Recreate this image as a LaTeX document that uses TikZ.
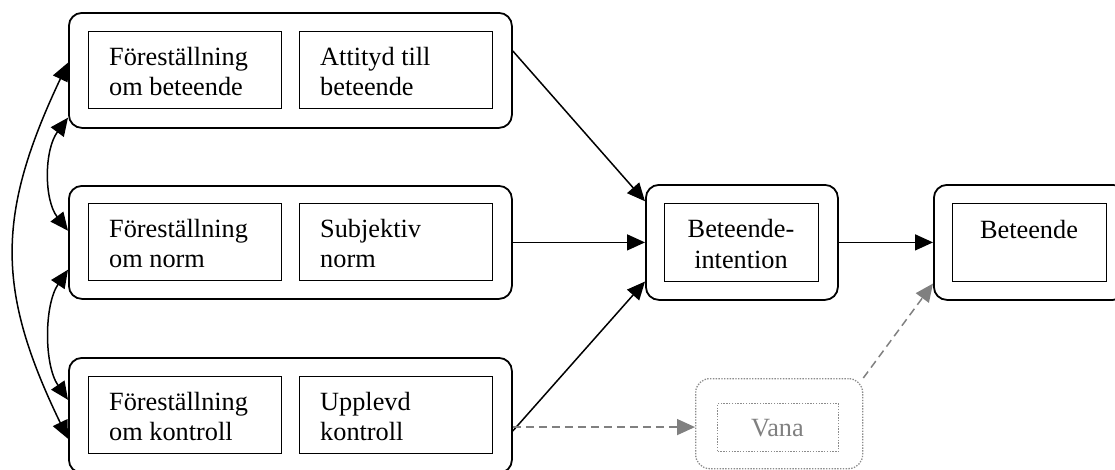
\documentclass[tikz,border=0pt]{standalone}
\usepackage{fontspec}
\setmainfont{Liberation Serif}
\usetikzlibrary{arrows.meta}
\newcommand\diagfont{\fontsize{26.3}{30.2}\selectfont}
\definecolor{gline}{HTML}{808080}
\definecolor{gdot}{HTML}{8C8C8C}
\tikzset{
  outerbox/.style={draw, line width=1.8pt, rounded corners=13pt, inner sep=0pt, anchor=north west},
  innerbox/.style={draw, line width=1.3pt, inner sep=0pt, anchor=north west},
  txt/.style={font=\diagfont, align=left, inner sep=0pt, anchor=north west},
  ctxt/.style={font=\diagfont, align=center, inner sep=0pt},
  tip/.style={Triangle[length=18pt,width=16pt]},
  arr/.style={line width=1.5pt, -{Triangle[length=18pt,width=16pt]}},
  biarr/.style={line width=1.5pt, {Triangle[length=18pt,width=16pt]}-{Triangle[length=18pt,width=16pt]}},
  garr/.style={line width=1.5pt, gline, dash pattern=on 8pt off 5pt, -{Triangle[length=18pt,width=16pt]}},
  dotbox/.style={draw=gdot, line width=1.3pt, dash pattern=on 1.4pt off 1.4pt, inner sep=0pt, anchor=north west},
}
\begin{document}
\begin{tikzpicture}[x=1pt,y=-1pt]
\useasboundingbox (0,0) rectangle (1115,469);
\clip (0,0) rectangle (1115,469);
% outer boxes
\node[outerbox, minimum width=443pt, minimum height=115pt] (b1) at (68,12) {};
\node[outerbox, minimum width=443pt, minimum height=113pt] (b2) at (68,185) {};
\node[outerbox, minimum width=443pt, minimum height=115pt] (b3) at (68,357) {};
\node[outerbox, minimum width=192pt, minimum height=115pt] (bi) at (645,184) {};
\node[outerbox, minimum width=192pt, minimum height=115pt] (be) at (933,184) {};
\node[dotbox, rounded corners=14pt, minimum width=167pt, minimum height=90pt] (va) at (695,378) {};
% inner boxes
\node[innerbox, minimum width=193pt, minimum height=77pt] (f1) at (88,31) {};
\node[innerbox, minimum width=193pt, minimum height=77pt] (a1) at (299,31) {};
\node[innerbox, minimum width=193pt, minimum height=77pt] (f2) at (88,203) {};
\node[innerbox, minimum width=193pt, minimum height=77pt] (s2) at (299,203) {};
\node[innerbox, minimum width=193pt, minimum height=77pt] (f3) at (88,376) {};
\node[innerbox, minimum width=193pt, minimum height=77pt] (u3) at (299,376) {};
\node[innerbox, minimum width=154pt, minimum height=78pt] (bii) at (664,203) {};
\node[innerbox, minimum width=154pt, minimum height=78pt] (bei) at (952,203) {};
\node[dotbox, minimum width=121pt, minimum height=48pt] (vai) at (717,403) {};
% texts
\node[txt] (t1) at (109,47) {Föreställning\\om beteende};
\node[txt] (t2) at (320,47) {Attityd till\\beteende};
\node[txt] (t3) at (109,219) {Föreställning\\om norm};
\node[txt] (t4) at (320,219) {Subjektiv\\norm};
\node[txt] (t5) at (109,392) {Föreställning\\om kontroll};
\node[txt] (t6) at (320,392) {Upplevd\\kontroll};
\node[ctxt] (t7) at (741,244) {Beteende-\\intention};
\node[ctxt, anchor=base] (t8) at (1029,238) {Beteende};
\node[ctxt, anchor=base, text=gline] (t9) at (777.5,436) {Vana};
% connectors
\draw[arr] (b1.5) -- (bi.157.6);
\draw[arr] (b2.east) -- (bi.west);
\draw[arr] (b3.-4.5) -- (bi.202.9);
\draw[arr] (bi.east) -- (be.west);
\draw[garr] (b3.-3.2) -- (b3.-3.2 -| va.west);
\draw[garr] (va.north east) -- (be.203.4);
% left curved double arrows
\draw[biarr] (b1.178.8) .. controls (-4,215) and (-4,290) .. (b3.186.6);
\draw[biarr] (b1.192.8) .. controls (44,150) and (44,200) .. (b2.177.5);
\draw[biarr] (b2.187.3) .. controls (44,305) and (44,365) .. (b3.176.8);
\end{tikzpicture}
\end{document}
